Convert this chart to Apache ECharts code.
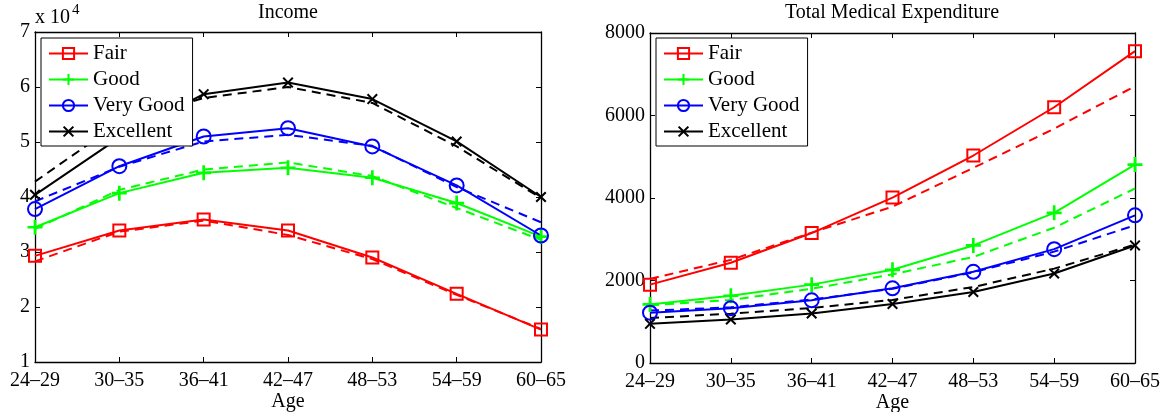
<!DOCTYPE html>
<html>
<head>
<meta charset="utf-8">
<script src="https://cdn.jsdelivr.net/npm/echarts@6/dist/echarts.min.js"></script>
<style>
  html, body { margin: 0; padding: 0; background: #fff; }
  #chart { width: 1167px; height: 412px; }
</style>
</head>
<body>
<div id="chart"></div>
<script>
// ---------- data ----------
const ages = ['24–29', '30–35', '36–41', '42–47', '48–53', '54–59', '60–65'];
const seriesNames = ['Fair', 'Good', 'Very Good', 'Excellent'];

// Income (dollars; axis shown in units of 10^4)
const incFair      = [29300, 33900, 35900, 33900, 29000, 22400, 15900];
const incFairDash  = [28300, 33700, 35700, 33100, 28700, 22200, 16000];
const incGood      = [34500, 40700, 44400, 45300, 43500, 38900, 32800];
const incGoodDash  = [34200, 41300, 45000, 46300, 43800, 38000, 32200];
const incVG        = [37800, 45600, 51000, 52500, 49200, 42100, 33000];
const incVGDash    = [39200, 45500, 50100, 51300, 49300, 41800, 35400];
const incExc       = [40400, 50800, 58700, 60800, 57800, 50100, 40000];
const incExcDash   = [42800, 53500, 58000, 60000, 57100, 49200, 39800];

// Total medical expenditure
const medFair      = [1900, 2430, 3150, 4010, 5030, 6200, 7560];
const medFairDash  = [2040, 2500, 3160, 3790, 4730, 5680, 6710];
const medGood      = [1420, 1630, 1900, 2260, 2850, 3640, 4810];
const medGoodDash  = [1400, 1530, 1800, 2150, 2570, 3280, 4230];
const medVG        = [1220, 1330, 1520, 1810, 2210, 2760, 3580];
const medVGDash    = [1270, 1350, 1540, 1800, 2200, 2700, 3340];
const medExc       = [950, 1055, 1200, 1430, 1720, 2170, 2850];
const medExcDash   = [1090, 1197, 1333, 1530, 1842, 2288, 2870];

const incTicks = [1, 2, 3, 4, 5, 6, 7];

// ---------- styling ----------
const FONT = '"Liberation Serif", "Times New Roman", serif';
const colors = ['#ff0000', '#00ff00', '#0000ff', '#000000'];
const symbols = [
  { symbol: 'rect', size: 12, hollow: true },
  { symbol: 'path://M4.1,0H5.9V4.1H10V5.9H5.9V10H4.1V5.9H0V4.1H4.1Z', size: 15, hollow: false },
  { symbol: 'circle', size: 14, hollow: true },
  { symbol: 'path://M0,1.3L1.3,0L5,3.7L8.7,0L10,1.3L6.3,5L10,8.7L8.7,10L5,6.3L1.3,10L0,8.7L3.7,5Z', size: 11, hollow: false }
];

function solidSeries(i, data, xi, yi) {
  const s = symbols[i];
  return {
    name: seriesNames[i], type: 'line', data: data,
    xAxisIndex: xi, yAxisIndex: yi,
    color: colors[i],
    symbol: s.symbol, symbolSize: s.size, showSymbol: true,
    lineStyle: { color: colors[i], width: 2, type: 'solid' },
    itemStyle: s.hollow
      ? { color: 'rgba(255,255,255,0)', borderColor: colors[i], borderWidth: 2 }
      : { color: colors[i], borderWidth: 0 },
    emphasis: { disabled: true },
    animation: false, z: 3
  };
}
function dashedSeries(i, data, xi, yi) {
  return {
    name: seriesNames[i] + ' (dashed)', type: 'line', data: data,
    xAxisIndex: xi, yAxisIndex: yi,
    color: colors[i],
    symbol: 'none', showSymbol: false,
    lineStyle: { color: colors[i], width: 2, type: [9, 6] },
    emphasis: { disabled: true },
    animation: false, z: 2
  };
}

function xAxes(gridIndex) {
  return [
    {
      type: 'category', gridIndex: gridIndex, data: ages, boundaryGap: false, position: 'bottom',
      axisLine: { show: true, onZero: false, lineStyle: { color: '#000', width: 1.3 } },
      axisTick: { show: true, inside: true, length: 5, lineStyle: { color: '#000' } },
      axisLabel: { color: '#000', fontFamily: FONT, fontSize: 20, margin: 9 },
      splitLine: { show: false },
      name: 'Age', nameLocation: 'middle', nameGap: 30, nameMoveOverlap: false,
      nameTextStyle: { color: '#000', fontFamily: FONT, fontSize: 20 }
    },
    {
      type: 'category', gridIndex: gridIndex, data: ages, boundaryGap: false, position: 'top',
      axisLine: { show: true, onZero: false, lineStyle: { color: '#000', width: 1.3 } },
      axisTick: { show: true, inside: true, length: 5, lineStyle: { color: '#000' } },
      axisLabel: { show: false }, splitLine: { show: false }
    }
  ];
}
function yAxes(gridIndex, min, max, interval, fmt) {
  return [
    {
      type: 'value', gridIndex: gridIndex, min: min, max: max, interval: interval, position: 'left',
      axisLine: { show: true, onZero: false, lineStyle: { color: '#000', width: 1.3 } },
      axisTick: { show: true, inside: true, length: 5, lineStyle: { color: '#000' } },
      axisLabel: { color: '#000', fontFamily: FONT, fontSize: 20, margin: 5, formatter: fmt },
      splitLine: { show: false }
    },
    {
      type: 'value', gridIndex: gridIndex, min: min, max: max, interval: interval, position: 'right',
      axisLine: { show: true, onZero: false, lineStyle: { color: '#000', width: 1.3 } },
      axisTick: { show: true, inside: true, length: 5, lineStyle: { color: '#000' } },
      axisLabel: { show: false }, splitLine: { show: false }
    }
  ];
}

function legendAt(left, top) {
  return {
    orient: 'vertical', left: left, top: top,
    data: seriesNames,
    itemWidth: 39, itemHeight: 14, itemGap: 5,
    padding: [5, 8, 4, 7],
    borderColor: '#000', borderWidth: 1, backgroundColor: '#fff',
    selectedMode: false,
    textStyle: { color: '#000', fontFamily: FONT, fontSize: 21, lineHeight: 20 },
    z: 10
  };
}

const incData = [incFair, incGood, incVG, incExc];
const incDash = [incFairDash, incGoodDash, incVGDash, incExcDash];
const medData = [medFair, medGood, medVG, medExc];
const medDash = [medFairDash, medGoodDash, medVGDash, medExcDash];

const series = [];
for (let i = 0; i < 4; i++) {
  series.push(solidSeries(i, incData[i], 0, 0));
  series.push(dashedSeries(i, incDash[i], 0, 0));
}
for (let i = 0; i < 4; i++) {
  series.push(solidSeries(i, medData[i], 2, 2));
  series.push(dashedSeries(i, medDash[i], 2, 2));
}

const option = {
  backgroundColor: '#fff',
  animation: false,
  title: [
    { text: 'Income', left: 288, top: 3, textAlign: 'center', padding: 0,
      textStyle: { color: '#000', fontFamily: FONT, fontSize: 20, fontWeight: 'normal' } },
    { text: 'Total Medical Expenditure', left: 892, top: 3, textAlign: 'center', padding: 0,
      textStyle: { color: '#000', fontFamily: FONT, fontSize: 20, fontWeight: 'normal' } }
  ],
  grid: [
    { left: 35, top: 32, width: 506, height: 330, containLabel: false, outerBoundsMode: 'none' },
    { left: 650, top: 33, width: 485, height: 330, containLabel: false, outerBoundsMode: 'none' }
  ],
  xAxis: [...xAxes(0), ...xAxes(1)],
  yAxis: [
    ...yAxes(0, incTicks[0] * 10000, incTicks[incTicks.length - 1] * 10000, 10000, v => String(v / 10000)),
    ...yAxes(1, 0, 8000, 2000, v => String(v))
  ],
  legend: [legendAt(41, 38), legendAt(656, 38)],
  graphic: [
    { type: 'text', left: 35, top: 8, style: { text: 'x 10', font: '20px ' + FONT, fill: '#000' } },
    { type: 'text', left: 72, top: 3, style: { text: '4', font: '15px ' + FONT, fill: '#000' } }
  ],
  series: series
};

const chart = echarts.init(document.getElementById('chart'), null, { renderer: 'canvas' });
chart.setOption(option);
</script>
</body>
</html>
